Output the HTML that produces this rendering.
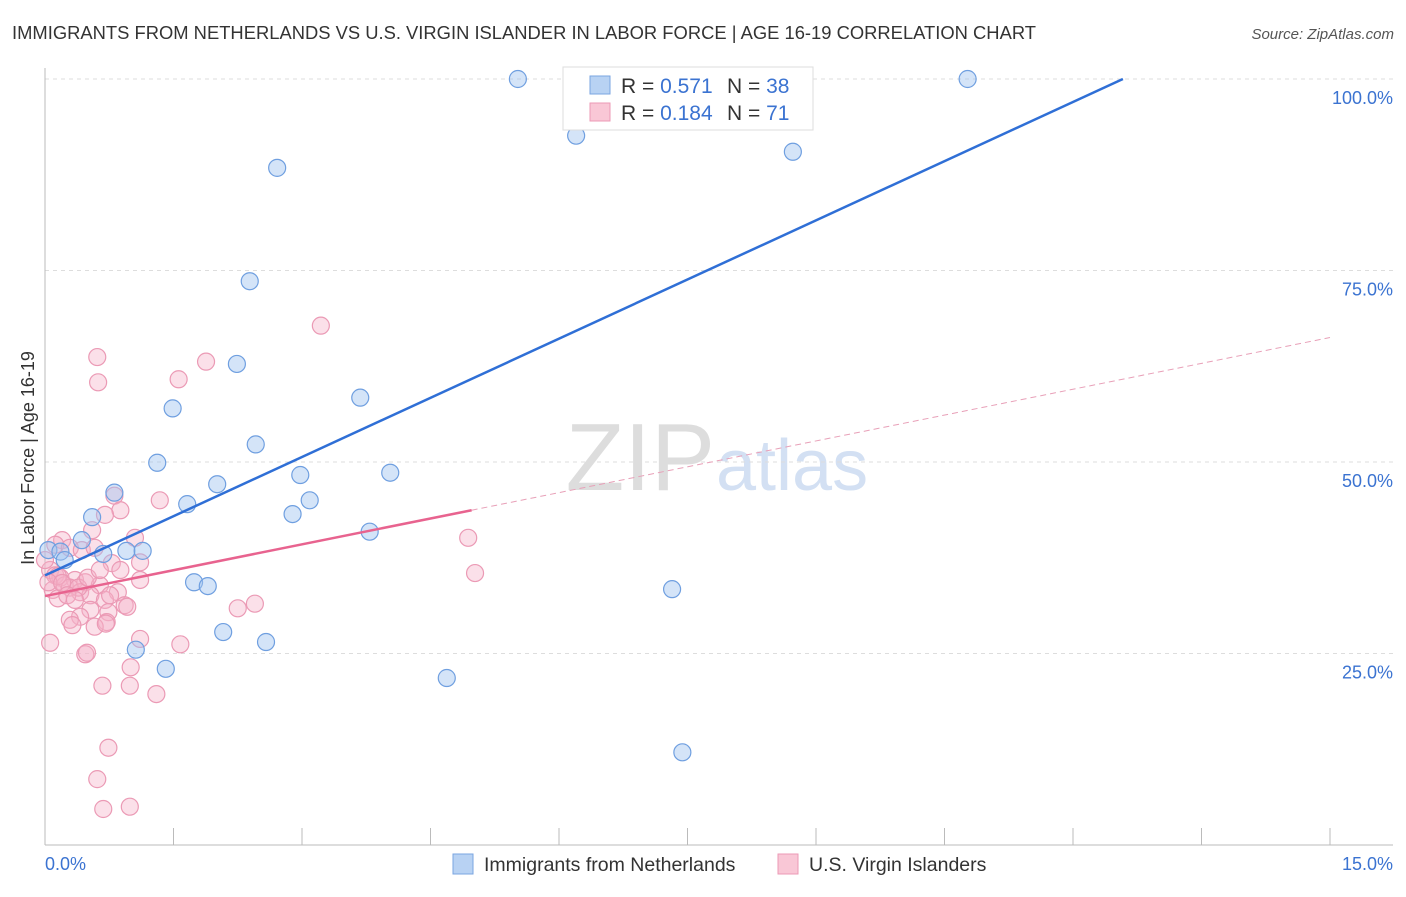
<!DOCTYPE html>
<html><head><meta charset="utf-8"><style>
body{margin:0;background:#fff;font-family:"Liberation Sans",sans-serif;}
svg text{font-family:"Liberation Sans",sans-serif;}
</style></head><body>
<svg id="chart" width="1406" height="892">
<text x="12" y="39" font-size="18" fill="#333" textLength="1024" lengthAdjust="spacingAndGlyphs">IMMIGRANTS FROM NETHERLANDS VS U.S. VIRGIN ISLANDER IN LABOR FORCE | AGE 16-19 CORRELATION CHART</text>
<text x="1394" y="39" font-size="15" fill="#555" font-style="italic" text-anchor="end">Source: ZipAtlas.com</text>
<text x="715" y="490" font-size="96" fill="#ddd" text-anchor="end" font-family="Liberation Serif">ZIP</text>
<text x="716" y="490" font-size="72" fill="#d3e0f3">atlas</text>
<g id="grid"></g><g id="axes"></g><g id="pts"></g><g id="lines"></g>
<text transform="translate(34,458) rotate(-90)" font-size="18" fill="#333" text-anchor="middle">In Labor Force | Age 16-19</text>
<g>
<rect x="563" y="67" width="250" height="63" fill="#fff" stroke="#ddd"/>
<rect x="590" y="76" width="20" height="18" fill="#b8d2f3" stroke="#7aa5e0"/>
<rect x="590" y="103" width="20" height="18" fill="#f9c7d6" stroke="#ec9ab6"/>
<text x="621" y="93" font-size="21" fill="#333">R = <tspan fill="#3b73d1">0.571</tspan></text>
<text x="727" y="93" font-size="21" fill="#333">N = <tspan fill="#3b73d1">38</tspan></text>
<text x="621" y="120" font-size="21" fill="#333">R = <tspan fill="#3b73d1">0.184</tspan></text>
<text x="727" y="120" font-size="21" fill="#333">N = <tspan fill="#3b73d1"> 71</tspan></text>
</g>
<g>
<rect x="453" y="854" width="20" height="20" fill="#b8d2f3" stroke="#7aa5e0"/>
<text x="484" y="871" font-size="19.5" fill="#333">Immigrants from Netherlands</text>
<rect x="778" y="854" width="20" height="20" fill="#f9c7d6" stroke="#ec9ab6"/>
<text x="809" y="871" font-size="19.5" fill="#333">U.S. Virgin Islanders</text>
</g>
</svg>
<script>
const xTicks=[0,1.5,3,4.5,6,7.5,9,10.5,12,13.5,15];
const yTicks=[25,50,75,100];
const yTickLabels=["25.0%","50.0%","75.0%","100.0%"];
const blueX=[5.52,6.48,8.80,10.77,6.20,8.73,2.71,2.39,2.24,1.49,3.68,1.31,2.46,4.03,2.98,2.01,0.81,1.66,3.09,2.89,0.55,0.43,3.79,0.04,0.18,0.68,0.95,1.14,0.23,1.74,1.90,7.32,2.08,2.58,1.06,1.41,4.69,7.44];
const blueY=[100,99.5,100,100,92.6,90.5,88.4,73.6,62.8,57.0,58.4,49.9,52.3,48.6,48.3,47.1,46.0,44.5,45.0,43.2,42.8,39.8,40.9,38.5,38.3,38.0,38.4,38.4,37.2,34.3,33.8,33.4,27.8,26.5,25.5,23.0,21.8,12.1];
const pinkX=[3.22,0.61,1.88,0.62,1.56,0.81,1.34,0.88,0.70,4.94,1.05,0.55,0.20,0.12,0.29,0.43,0.58,1.11,0.78,5.02,0.06,0.12,0.18,0.35,0.47,0.64,1.11,0.09,0.23,0.29,0.41,0.53,0.85,0.15,0.70,0.93,0.74,0.53,0.41,0.29,0.72,0.96,2.25,2.45,0.32,0.58,0.71,1.11,1.58,0.06,0.47,0.49,1.00,0.67,0.99,1.30,0.74,0.61,0.68,0.99,0.15,0.04,0.20,0.39,0.50,0.64,0.00,0.88,0.26,0.76,0.35];
const pinkY=[67.8,63.7,63.1,60.4,60.8,45.6,45.0,43.7,43.1,40.1,40.1,41.1,39.8,39.2,38.8,38.5,38.8,36.9,36.8,35.5,35.9,35.2,34.9,34.6,34.3,33.9,34.6,33.3,33.9,33.6,33.0,32.6,33.0,32.2,32.0,31.3,30.4,30.7,29.8,29.4,29.1,31.1,30.9,31.5,28.7,28.5,28.9,26.9,26.2,26.4,24.9,25.1,23.2,20.8,20.8,19.7,12.7,8.6,4.7,5.0,35.1,34.3,34.2,33.6,34.9,35.9,37.2,35.9,32.6,32.6,32.0];
const blueFit=[35.2,5.15]; // intercept, slope
const pinkFit=[32.5,2.25];
const pinkSolidEnd=4.98;
const X=v=>45+v/15*1285, Y=v=>845-v*7.66;
const NS="http://www.w3.org/2000/svg";
function mk(p,t,a){const e=document.createElementNS(NS,t);for(const k in a)e.setAttribute(k,a[k]);document.getElementById(p).appendChild(e);return e;}
yTicks.forEach((t,i)=>{
 const g=mk('grid','line',{x1:45,x2:1393,y1:Y(t),y2:Y(t),stroke:'#ddd','stroke-dasharray':'4,4'});
 
 
 const l=mk('axes','text',{x:1393,y:Y(t)+25,'font-size':18,fill:'#3b73d1','text-anchor':'end'});
 l.textContent=yTickLabels[i];
 
 
});
const ax=mk('axes','line',{x1:45,x2:45,y1:68,y2:845,stroke:'#bbb'});


const bx=mk('axes','line',{x1:45,x2:1393,y1:845,y2:845,stroke:'#bbb'});


xTicks.forEach(t=>{const e=mk('axes','line',{x1:X(t),x2:X(t),y1:828,y2:845,stroke:'#bbb'});
 
 });
const x0=mk('axes','text',{x:45,y:870,'font-size':18,fill:'#3b73d1'});x0.textContent=xTicks[0].toFixed(1)+'%';


const x1=mk('axes','text',{x:1393,y:870,'font-size':18,fill:'#3b73d1','text-anchor':'end'});x1.textContent=xTicks[xTicks.length-1].toFixed(1)+'%';


pinkX.forEach((v,i)=>{const c=mk('pts','circle',{cx:X(v),cy:Y(pinkY[i]),r:8.5,fill:'rgba(246,178,200,0.4)',stroke:'#eb9ab5','stroke-width':1.2});
 
 });
blueX.forEach((v,i)=>{const c=mk('pts','circle',{cx:X(v),cy:Y(blueY[i]),r:8.5,fill:'rgba(160,196,240,0.45)',stroke:'#6f9fe0','stroke-width':1.2});
 
 });
const bEnd=(100-blueFit[0])/blueFit[1];
const bl=mk('lines','line',{x1:X(0),y1:Y(blueFit[0]),x2:X(bEnd),y2:Y(100),stroke:'#2f6fd6','stroke-width':2.5});


const ps=mk('lines','line',{x1:X(0),y1:Y(pinkFit[0]),x2:X(pinkSolidEnd),y2:Y(pinkFit[0]+pinkFit[1]*pinkSolidEnd),stroke:'#e8638f','stroke-width':2.5});


const pd=mk('lines','line',{x1:X(pinkSolidEnd),y1:Y(pinkFit[0]+pinkFit[1]*pinkSolidEnd),x2:X(15),y2:Y(pinkFit[0]+pinkFit[1]*15),stroke:'#e8a0b8','stroke-width':1,'stroke-dasharray':'6,4'});


</script>
</body></html>
